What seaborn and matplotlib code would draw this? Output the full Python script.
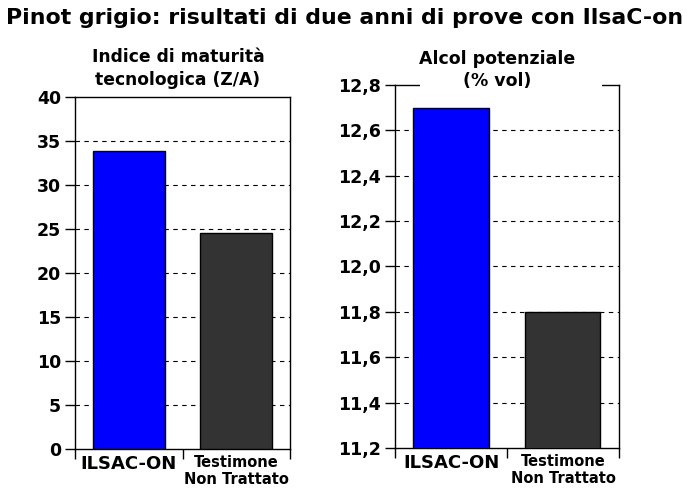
import matplotlib
matplotlib.use("Agg")
import matplotlib.pyplot as plt
from matplotlib.patches import Rectangle
import pandas as pd
import seaborn as sns

categories = ["ILSAC-ON", "Testimone\nNon Trattato"]
maturity_values = [33.9, 24.5]
alcohol_values = [12.70, 11.80]
bar_colors = ["#0000FF", "#333333"]

maturity_ticks = [0, 5, 10, 15, 20, 25, 30, 35, 40]
alcohol_ticks = [11.2, 11.4, 11.6, 11.8, 12.0, 12.2, 12.4, 12.6, 12.8]

sns.set_theme(style="white")
plt.rcParams["font.family"] = ["DejaVu Sans"]
plt.rcParams["font.weight"] = "bold"
plt.rcParams["text.color"] = "black"
plt.rcParams["xtick.color"] = "black"
plt.rcParams["ytick.color"] = "black"

fig = plt.figure(figsize=(6.9, 4.96), dpi=100)
ax1 = fig.add_axes([0.1087, 0.0948, 0.3116, 0.7096])
ax2 = fig.add_axes([0.5725, 0.0968, 0.3245, 0.7322])


def draw_panel(ax, values, ticks, labels_fmt):
    df = pd.DataFrame({"cat": categories, "val": values})
    sns.barplot(data=df, x="cat", y="val", hue="cat", palette=bar_colors,
                saturation=1, width=0.67, edgecolor="black", linewidth=1,
                legend=False, ax=ax, zorder=3)
    ax.set_ylim(ticks[0], ticks[-1])
    ax.set_xlim(-0.5, 1.5)
    ax.set_yticks(ticks)
    ax.set_yticklabels([labels_fmt(t) for t in ticks], fontsize=12.5,
                       fontweight="bold", color="black")
    ax.set_xticks([-0.5, 0.5, 1.5], minor=False)
    ax.set_xticklabels([])
    ax.set_xticks([0, 1], minor=True)
    ax.set_xticklabels(categories, minor=True)
    ax.tick_params(axis="x", which="minor", length=0, pad=4)
    ax.tick_params(axis="x", which="major", length=7, direction="out",
                   bottom=True, color="black", width=1)
    ax.tick_params(axis="y", length=7, direction="out", left=True,
                   color="black", width=1, pad=3)
    lbls = ax.get_xticklabels(minor=True)
    lbls[0].set_fontsize(13)
    lbls[1].set_fontsize(10.5)
    lbls[1].set_linespacing(1.2)
    for lb in lbls:
        lb.set_fontweight("bold")
        lb.set_color("black")
    for t in ticks[1:-1]:
        ax.axhline(t, color="black", linestyle=(0, (4, 4)), linewidth=0.8, zorder=1)
    for side in ["left", "right", "top", "bottom"]:
        ax.spines[side].set_visible(True)
        ax.spines[side].set_color("black")
        ax.spines[side].set_linewidth(1)
    ax.set_xlabel("")
    ax.set_ylabel("")


draw_panel(ax1, maturity_values, maturity_ticks, lambda t: f"{t:d}")
draw_panel(ax2, alcohol_values, alcohol_ticks, lambda t: f"{t:.1f}".replace(".", ","))

fig.text(0.5, 0.964, "Pinot grigio: risultati di due anni di prove con IlsaC-on",
         ha="center", va="center", fontsize=15.8, fontweight="bold")
fig.text(178 / 690, 1 - 68.5 / 496, "Indice di maturità\ntecnologica (Z/A)",
         ha="center", va="center", fontsize=12.3, fontweight="bold", linespacing=1.3)
# white gap in the top spine of the right panel behind its title
fig.patches.append(Rectangle((420 / 690, 1 - 90 / 496), 182 / 690, 10 / 496,
                             transform=fig.transFigure, facecolor="white",
                             edgecolor="none", zorder=9))
fig.text(497 / 690, 1 - 70 / 496, "Alcol potenziale\n(% vol)",
         ha="center", va="center", fontsize=12.5, fontweight="bold",
         linespacing=1.3, zorder=10)

fig.savefig("out.png", dpi=100, facecolor="white")
